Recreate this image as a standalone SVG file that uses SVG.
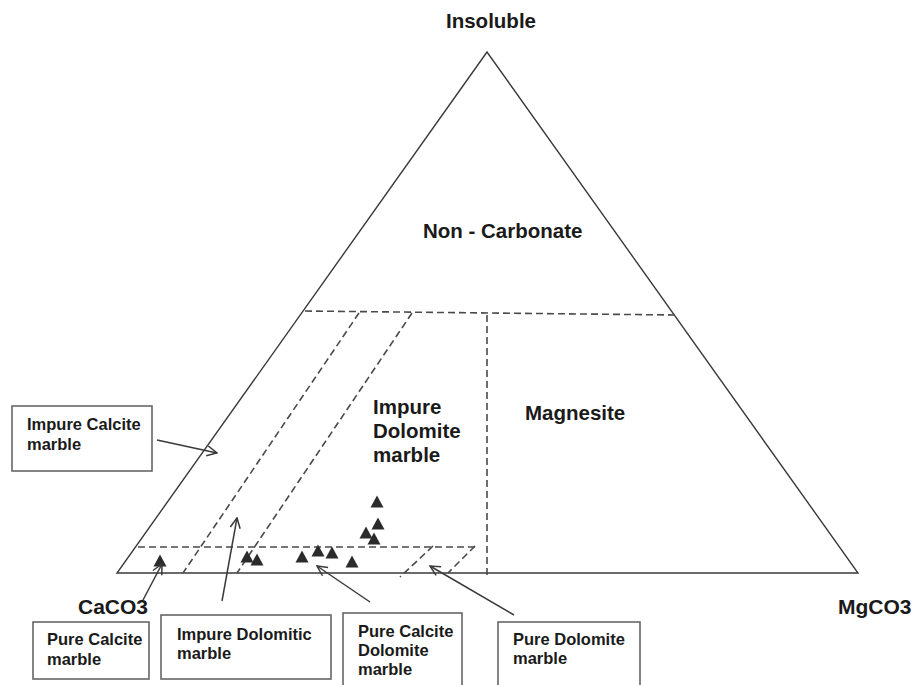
<svg xmlns="http://www.w3.org/2000/svg" width="916" height="685" viewBox="0 0 916 685">
<defs>
<style>
.side{fill:none;stroke:#3a3a3a;stroke-width:1.4}
.dash{fill:none;stroke:#4a4a4a;stroke-width:1.6;stroke-dasharray:7 4}
.box{fill:#fff;stroke:#666;stroke-width:1.6}
.lbl{font-family:"Liberation Sans",Arial,sans-serif;font-weight:bold;fill:#1a1a1a}
.big{font-size:20.5px}
.sm{font-size:16.5px}
.arr{fill:none;stroke:#3a3a3a;stroke-width:1.5;marker-end:url(#open)}
.pt{fill:#2b2b2b}
</style>
<marker id="open" viewBox="0 0 12 12" refX="11" refY="6" markerWidth="12" markerHeight="12" markerUnits="userSpaceOnUse" orient="auto">
<path d="M1,1 L11,6 L1,11" fill="none" stroke="#3a3a3a" stroke-width="1.5"/>
</marker>
<path id="tri" d="M0,-6.5 L6.5,5.5 L-6.5,5.5 Z"/>
</defs>
<rect width="916" height="685" fill="#fff"/>
<g id="diagram-frame">
<path class="side" d="M487,52 L117,573 L858,573 Z"/>
</g>
<g id="boundaries">
<line class="dash" x1="305" y1="311" x2="675" y2="315"/>
<line class="dash" x1="487" y1="315" x2="487" y2="578"/>
<line class="dash" x1="138" y1="547" x2="478" y2="547"/>
<line class="dash" x1="359" y1="313" x2="183" y2="573"/>
<line class="dash" x1="412" y1="313" x2="237" y2="573"/>
<line class="dash" x1="433" y1="546" x2="400" y2="577"/>
<line class="dash" x1="475" y1="546" x2="448" y2="573"/>
</g>
<g id="data-points">
<use href="#tri" class="pt" x="377" y="502"/>
<use href="#tri" class="pt" x="378" y="524"/>
<use href="#tri" class="pt" x="366" y="533"/>
<use href="#tri" class="pt" x="374" y="539"/>
<use href="#tri" class="pt" x="160" y="561"/>
<use href="#tri" class="pt" x="247" y="557"/>
<use href="#tri" class="pt" x="257" y="560"/>
<use href="#tri" class="pt" x="302" y="557"/>
<use href="#tri" class="pt" x="318" y="551"/>
<use href="#tri" class="pt" x="332" y="553"/>
<use href="#tri" class="pt" x="352" y="562"/>
</g>
<g id="labels">
<text class="lbl big" x="491" y="28" text-anchor="middle">Insoluble</text>
<text class="lbl big" x="423" y="238">Non - Carbonate</text>
<text class="lbl big" x="525" y="420">Magnesite</text>
<text class="lbl big" x="373" y="414">Impure</text>
<text class="lbl big" x="373" y="438">Dolomite</text>
<text class="lbl big" x="373" y="462">marble</text>
<text class="lbl" font-size="21" x="78" y="614">CaCO3</text>
<text class="lbl" font-size="21" x="838" y="614">MgCO3</text>
</g>
<g id="connectors">
<line class="arr" x1="157" y1="440" x2="217" y2="453"/>
<line class="arr" x1="143" y1="600" x2="162" y2="564"/>
<line class="arr" x1="222" y1="601" x2="237" y2="518"/>
<line class="arr" x1="370" y1="602" x2="317" y2="566"/>
<line class="arr" x1="514" y1="615" x2="430" y2="566"/>
</g>
<g id="box-impure-calcite">
<rect class="box" x="12" y="406" width="140" height="65"/>
<text class="lbl sm" x="27" y="430">Impure Calcite</text>
<text class="lbl sm" x="27" y="450">marble</text>
</g>
<g id="box-pure-calcite">
<rect class="box" x="33" y="622" width="116" height="57"/>
<text class="lbl sm" x="47" y="645">Pure Calcite</text>
<text class="lbl sm" x="47" y="665">marble</text>
</g>
<g id="box-impure-dolomitic">
<rect class="box" x="161" y="615" width="170" height="64"/>
<text class="lbl sm" x="177" y="640">Impure Dolomitic</text>
<text class="lbl sm" x="177" y="659">marble</text>
</g>
<g id="box-pure-calcite-dolomite">
<rect class="box" x="343" y="613" width="119" height="80"/>
<text class="lbl sm" x="358" y="637">Pure Calcite</text>
<text class="lbl sm" x="358" y="656">Dolomite</text>
<text class="lbl sm" x="358" y="675">marble</text>
</g>
<g id="box-pure-dolomite">
<rect class="box" x="498" y="622" width="142" height="70"/>
<text class="lbl sm" x="513" y="645">Pure Dolomite</text>
<text class="lbl sm" x="513" y="664">marble</text>
</g>
</svg>
